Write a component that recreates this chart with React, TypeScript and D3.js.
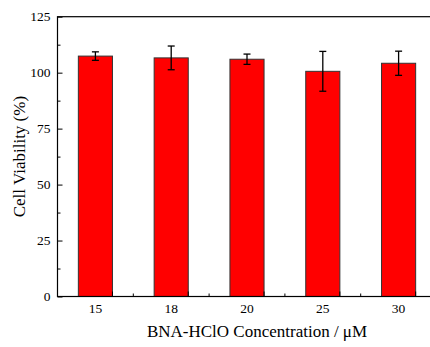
import { useEffect, useRef } from "react";
import * as d3 from "d3";

// values
const concentrations = ["15", "18", "20", "25", "30"];
const viability = [107.4, 106.6, 106.0, 100.6, 104.2];
const viabilityErr = [1.9, 5.3, 2.3, 8.9, 5.4];
const yTicks = [0, 25, 50, 75, 100, 125];
const yMinorTicks = [12.5, 37.5, 62.5, 87.5, 112.5];

const FONT = "'Liberation Serif', 'Times New Roman', serif";

export default function App() {
  const svgRef = useRef<SVGSVGElement | null>(null);

  useEffect(() => {
    document.body.style.margin = "0";
    const svg = d3.select(svgRef.current!);
    svg.selectAll("*").remove();

    const left = 57.5;
    const top = 16.7;
    const bottom = 296.5;
    const right = 436.5;

    const x = d3
      .scaleBand()
      .domain(concentrations)
      .range([left, right])
      .paddingInner(0.55)
      .paddingOuter(0.275);

    const y = d3.scaleLinear().domain([0, 125]).range([bottom, top]);

    const g = svg.append("g");

    // bars
    g.selectAll("rect.bar")
      .data(viability)
      .enter()
      .append("rect")
      .attr("class", "bar")
      .attr("x", (_, i) => x(concentrations[i])!)
      .attr("y", (d) => y(d))
      .attr("width", x.bandwidth())
      .attr("height", (d) => y(0) - y(d))
      .attr("fill", "#ff0000")
      .attr("stroke", "#333")
      .attr("stroke-width", 1);

    // error bars
    const cx = (i: number) => x(concentrations[i])! + x.bandwidth() / 2;
    const cap = 3.5;
    viability.forEach((v, i) => {
      const e = viabilityErr[i];
      const eg = g.append("g").attr("stroke", "#000").attr("stroke-width", 1.3);
      eg.append("line").attr("x1", cx(i)).attr("x2", cx(i)).attr("y1", y(v + e)).attr("y2", y(v - e));
      eg.append("line").attr("x1", cx(i) - cap).attr("x2", cx(i) + cap).attr("y1", y(v + e)).attr("y2", y(v + e));
      eg.append("line").attr("x1", cx(i) - cap).attr("x2", cx(i) + cap).attr("y1", y(v - e)).attr("y2", y(v - e));
    });

    // frame
    const frame = g.append("g").attr("stroke", "#000").attr("stroke-width", 1.2).attr("fill", "none");
    frame.append("rect").attr("x", left).attr("y", top).attr("width", right - left).attr("height", bottom - top);

    // y axis ticks (inward)
    g.append("g")
      .attr("transform", `translate(${left},0)`)
      .call(d3.axisRight(y).tickValues(yTicks).tickSize(5).tickFormat(() => ""))
      .call((a) => a.select(".domain").remove());
    g.append("g")
      .attr("transform", `translate(${left},0)`)
      .call(d3.axisRight(y).tickValues(yMinorTicks).tickSize(3).tickFormat(() => ""))
      .call((a) => a.select(".domain").remove());

    g.selectAll("text.ylab")
      .data(yTicks)
      .enter()
      .append("text")
      .attr("class", "ylab")
      .attr("x", left - 7)
      .attr("y", (d) => y(d) + 4.5)
      .attr("text-anchor", "end")
      .attr("font-family", FONT)
      .attr("font-size", 13.5)
      .text((d) => d);

    // x axis ticks (inward)
    g.append("g")
      .attr("transform", `translate(${x.bandwidth() / 2},${bottom})`)
      .call(d3.axisTop(x).tickSize(5).tickFormat(() => ""))
      .call((a) => a.select(".domain").remove());
    const step = x.step();
    const minor = concentrations.slice(0, -1).map((c) => x(c)! + x.bandwidth() / 2 + step / 2);
    g.selectAll("line.xminor")
      .data(minor)
      .enter()
      .append("line")
      .attr("class", "xminor")
      .attr("x1", (d) => d)
      .attr("x2", (d) => d)
      .attr("y1", bottom)
      .attr("y2", bottom - 3)
      .attr("stroke", "#000");

    g.selectAll("text.xlab")
      .data(concentrations)
      .enter()
      .append("text")
      .attr("class", "xlab")
      .attr("x", (d) => x(d)! + x.bandwidth() / 2)
      .attr("y", bottom + 16.5)
      .attr("text-anchor", "middle")
      .attr("font-family", FONT)
      .attr("font-size", 13.5)
      .text((d) => d);

    // titles
    svg.append("text")
      .attr("x", 257)
      .attr("y", 336.5)
      .attr("text-anchor", "middle")
      .attr("font-family", FONT)
      .attr("font-size", 17)
      .text("BNA-HClO Concentration / μM");

    svg.append("text")
      .attr("transform", `translate(25,${(top + bottom) / 2}) rotate(-90)`)
      .attr("text-anchor", "middle")
      .attr("font-family", FONT)
      .attr("font-size", 17)
      .text("Cell Viability (%)");
  }, []);

  return <svg ref={svgRef} width={430} height={347} style={{ display: "block" }} />;
}
